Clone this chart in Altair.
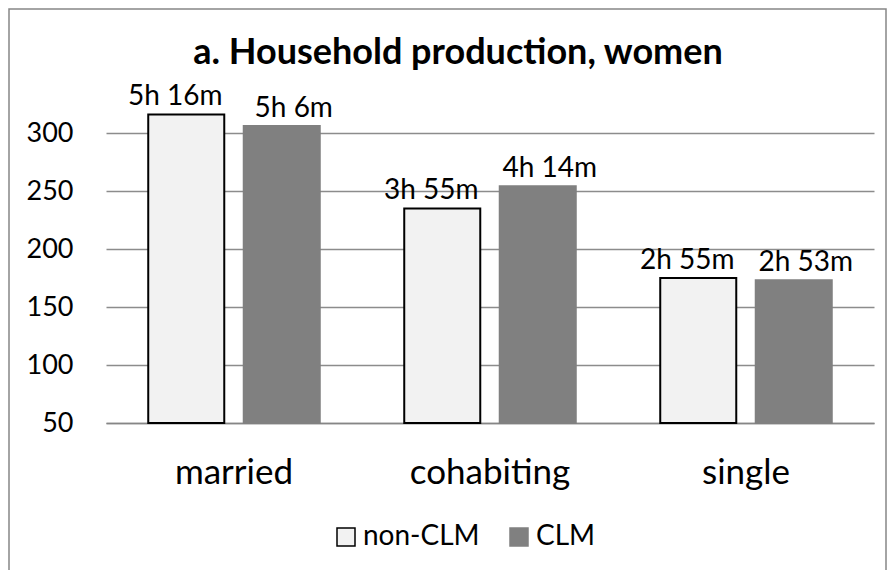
import altair as alt
import pandas as pd

categories = ["married", "cohabiting", "single"]
groups = ["non-CLM", "CLM"]
non_clm = [316, 235, 175]
clm = [306, 254, 173]
non_clm_labels = ["5h 16m", "3h 55m", "2h 55m"]
clm_labels = ["5h 6m", "4h 14m", "2h 53m"]
y_ticks = [50, 100, 150, 200, 250, 300]
title_text = "a. Household production, women"

rows = []
for i, c in enumerate(categories):
    rows.append({"cat": c, "group": "non-CLM", "value": non_clm[i], "label": non_clm_labels[i]})
    rows.append({"cat": c, "group": "CLM", "value": clm[i], "label": clm_labels[i]})
df = pd.DataFrame(rows)

FONT = "Lato"
W, H = 768, 348

x = alt.X("cat:N", sort=categories, title=None,
          scale=alt.Scale(paddingInner=0.33, paddingOuter=0.165),
          axis=alt.Axis(labelAngle=0, labelFontSize=35, labelPadding=32, ticks=False,
                        domainColor="#868686", domainWidth=1.5, labelColor="black", labelFont=FONT))
xo = alt.XOffset("group:N", sort=groups, scale=alt.Scale(paddingInner=0.204, paddingOuter=0))
yscale = alt.Scale(domain=[50, 350], nice=False, zero=False)
y = alt.Y("value:Q", title=None, scale=yscale,
          axis=alt.Axis(values=y_ticks, labelFontSize=27, labelPadding=33, ticks=False, domain=False,
                        grid=True, gridColor="#8c8c8c", gridWidth=1.5, labelColor="black", labelFont=FONT))

base = alt.Chart(df).encode(x=x, xOffset=xo)

bars = base.mark_bar(strokeWidth=2).encode(
    y=y,
    y2=alt.datum(50),
    fill=alt.Fill("group:N", sort=groups, title=None,
                  scale=alt.Scale(domain=groups, range=["#f2f2f2", "#808080"]),
                  legend=alt.Legend(orient="none", legendX=226, legendY=448, direction="horizontal",
                                    symbolType="square", symbolSize=324, symbolStrokeWidth=1.5,
                                    labelFontSize=28, labelFont=FONT, labelColor="black",
                                    columnPadding=25, labelOffset=3)),
    stroke=alt.Stroke("group:N", sort=groups, title=None,
                      scale=alt.Scale(domain=groups, range=["black", "#808080"])),
)

labels_a = base.transform_filter(alt.datum.group == "non-CLM").mark_text(
    dy=-9, dx=-11, fontSize=28, font=FONT, color="black", baseline="alphabetic").encode(
    y=alt.Y("value:Q", scale=yscale), text="label:N")
labels_b = base.transform_filter(alt.datum.group == "CLM").mark_text(
    dy=-9, dx=12, fontSize=28, font=FONT, color="black", baseline="alphabetic").encode(
    y=alt.Y("value:Q", scale=yscale), text="label:N")

frame = alt.Chart(pd.DataFrame({"a": [0]})).mark_rect(fill="transparent", stroke="#868686", strokeWidth=1.5).encode(
    x=alt.value(-97), x2=alt.value(780), y=alt.value(-66), y2=alt.value(530)
)

title = alt.Chart(pd.DataFrame({"t": [title_text]})).mark_text(
    fontSize=36, font=FONT, fontWeight="bold", color="black", align="center", baseline="alphabetic"
).encode(x=alt.value(352), y=alt.value(-11), text="t:N")

chart = alt.layer(frame, bars, labels_a, labels_b, title).properties(
    width=W, height=H,
    autosize=alt.AutoSizeParams(type="none"),
    padding={"left": 98, "top": 67, "right": 13, "bottom": 147},
).configure(background="white").configure_view(stroke=None)

chart.save("out.html", embed_options={"renderer": "svg", "actions": False})
